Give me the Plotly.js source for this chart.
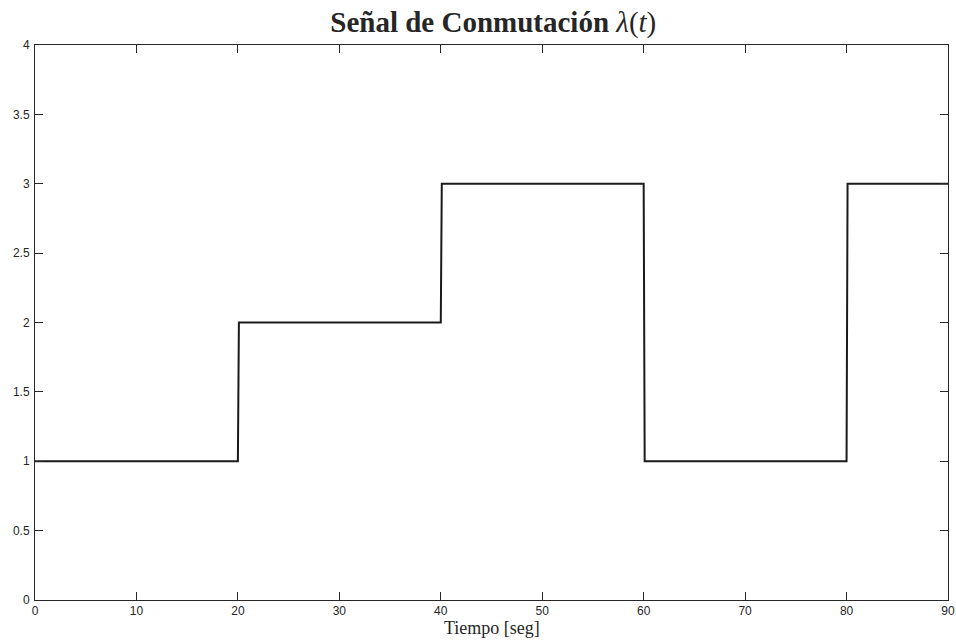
<!DOCTYPE html>
<html>
<head>
<meta charset="utf-8">
<script src="https://cdn.plot.ly/plotly-3.0.1.min.js"></script>
<style>html,body{margin:0;padding:0;background:#fff;}#chart{width:956px;height:641px;}</style>
</head>
<body>
<div id="chart"></div>
<script>
// Switching signal lambda(t): time [s] and value
const tiempo = [0, 20, 20.1, 40, 40.1, 60, 60.1, 80, 80.1, 90];
const lambda = [1, 1, 2, 2, 3, 3, 1, 1, 3, 3];
const xTicks = [0, 10, 20, 30, 40, 50, 60, 70, 80, 90];
const yTicks = [0, 0.5, 1, 1.5, 2, 2.5, 3, 3.5, 4];

const axisColor = '#262626';
const serif = 'Liberation Serif, Times New Roman, serif';
const trace = {
  x: tiempo, y: lambda, type: 'scatter', mode: 'lines',
  line: {color: '#1a1a1a', width: 2}, hoverinfo: 'skip'
};
const commonAxis = {
  showgrid: false, zeroline: false, showline: true, linecolor: axisColor, linewidth: 1,
  mirror: 'ticks', ticks: 'inside', ticklen: 8, tickcolor: axisColor, tickwidth: 1,
  tickfont: {family: 'Liberation Sans, Arial, sans-serif', size: 12, color: axisColor},
  automargin: false, fixedrange: true
};
const layout = {
  width: 956, height: 641,
  margin: {l: 35, r: 8, t: 45, b: 41},
  paper_bgcolor: '#fff', plot_bgcolor: '#fff',
  showlegend: false,
  title: {
    text: '<b>Señal de Conmutación</b> <i>λ</i>(<i>t</i>)',
    font: {family: serif, size: 29, color: '#262626'},
    x: 0.516, xanchor: 'center', xref: 'container',
    y: 0.966, yanchor: 'middle', yref: 'container'
  },
  xaxis: Object.assign({}, commonAxis, {
    range: [0, 90], tickvals: xTicks, ticktext: xTicks.map(String)
  }),
  yaxis: Object.assign({}, commonAxis, {
    range: [0, 4], tickvals: yTicks, ticktext: yTicks.map(String), ticklabelstandoff: 2
  }),
  annotations: [{
    text: 'Tiempo [seg]', xref: 'paper', yref: 'paper', x: 0.5, y: 0,
    xanchor: 'center', yanchor: 'middle', yshift: -28, showarrow: false,
    borderpad: 0,
    font: {family: serif, size: 18, color: axisColor}
  }]
};
Plotly.newPlot('chart', [trace], layout, {staticPlot: true, displayModeBar: false});
</script>
</body>
</html>
